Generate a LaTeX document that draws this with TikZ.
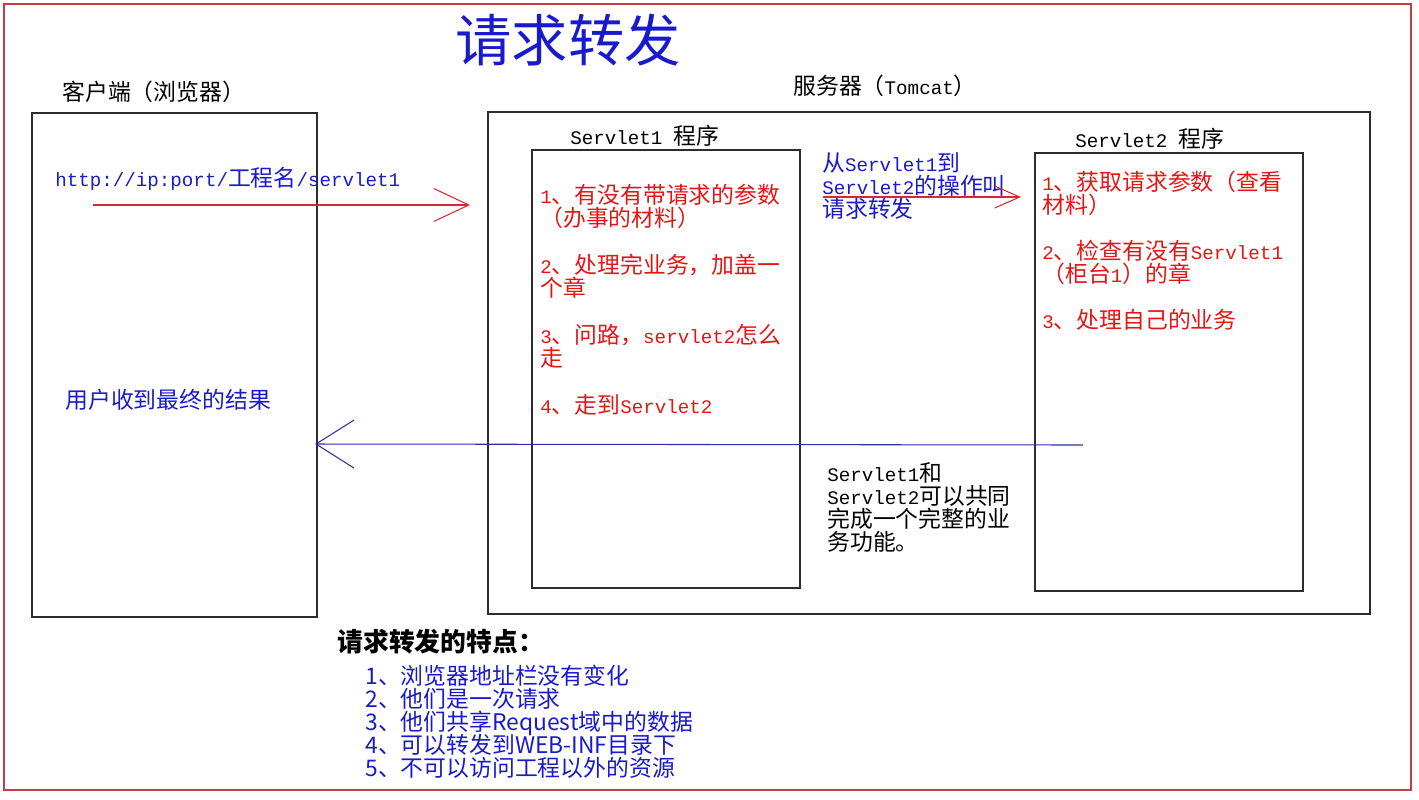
\documentclass[tikz,border=0pt]{standalone}
\usepackage{fontspec}
\setmainfont{Noto Sans CJK SC}
\newfontfamily\latmono[Scale=0.84]{Liberation Mono}
\newcommand\en[1]{{\latmono #1}}
\newcommand\tightlines{\lineskiplimit=-8pt\relax\lineskip=0pt\relax}
\usetikzlibrary{positioning,arrows.meta}
\definecolor{txtblue}{RGB}{25,25,205}
\definecolor{txtred}{RGB}{230,20,20}
\definecolor{arrred}{RGB}{215,40,50}
\definecolor{arrblue}{RGB}{45,45,165}
\definecolor{framered}{RGB}{195,60,70}
\definecolor{boxgray}{RGB}{45,45,45}
\tikzset{
  bx/.style={rectangle, draw=boxgray, line width=0.85pt, inner sep=0pt},
  tx/.style={anchor=north west, align=left, inner sep=0pt, font=\fontsize{13}{13.1}\selectfont\tightlines},
  rd/.style={tx, text=txtred},
  bl/.style={tx, text=txtblue},
  req/.style={draw=arrred, line width=0.6pt, -{Straight Barb[length=0.7cm, width=0.66cm]}},
  fwd/.style={draw=arrred, line width=0.6pt, -{Straight Barb[length=0.5cm, width=0.44cm]}},
  ret/.style={draw=arrblue, line width=0.6pt, -{Straight Barb[length=0.76cm, width=0.96cm]}}
}

\begin{document}
\begin{tikzpicture}[x=0.02cm, y=-0.02cm]
	\useasboundingbox (0,0) rectangle (1419,799);
	\node[rectangle, draw=framered, line width=1.4pt, minimum width=28.14cm, minimum height=15.72cm] (page) at (707.5,397) {};
	% boxes
	\node[bx, minimum width=5.7cm, minimum height=10.08cm] (client) at (174.5,365) {};
	\node[bx, minimum width=17.64cm, minimum height=10.04cm] (server) at (929,363) {};
	\node[bx, minimum width=5.36cm, minimum height=8.76cm] (servone) at (666,369) {};
	\node[bx, minimum width=5.36cm, minimum height=8.76cm] (servtwo) at (1169,372) {};
	% labels
	\node[tx, font=\fontsize{32}{32}\selectfont, text=txtblue, anchor=center] (title) at (568,40) {请求转发};
	\node[tx] (clientlbl) at (62,81) {客户端（浏览器）};
	\node[tx] (serverlbl) at (793,75) {服务器（\en{Tomcat}）};
	\node[tx] (servonelbl) at (570,125) {\en{Servlet1 }程序};
	\node[tx] (servtwolbl) at (1075,128) {\en{Servlet2 }程序};
	\node[bl] (url) at (55,167) {\en{http://ip:port/}工程名\en{/servlet1}};
	\node[bl] (fwdtxt) at (822,152) {从\en{Servlet1}到\\\en{Servlet2}的操作叫\\请求转发};
	\node[rd] (servonetxt) at (540,184) {\en{1}、有没有带请求的参数\\（办事的材料）\\[0.48cm]\en{2}、处理完业务，加盖一\\个章\\[0.48cm]\en{3}、问路，\en{servlet2}怎么\\走\\[0.48cm]\en{4}、走到\en{Servlet2}};
	\node[rd] (servtwotxt) at (1042,171) {\en{1}、获取请求参数（查看\\材料）\\[0.46cm]\en{2}、检查有没有\en{Servlet1}\\（柜台\en{1}）的章\\[0.46cm]\en{3}、处理自己的业务};
	\node[bl] (usertxt) at (65,389) {用户收到最终的结果};
	\node[tx] (bothtxt) at (827,462) {\en{Servlet1}和\\\en{Servlet2}可以共同\\完成一个完整的业\\务功能。};
	\node[tx, font=\bfseries\fontsize{14.7}{15}\selectfont] (feathead) at (337,629) {请求转发的特点：};
	\node[bl] (featlist) at (365,665) {1、浏览器地址栏没有变化\\2、他们是一次请求\\3、他们共享Request域中的数据\\4、可以转发到WEB-INF目录下\\5、不可以访问工程以外的资源};
	% arrows
	\coordinate (reqstart) at (93,205);
	\coordinate (reqtip) at (470,205);
	\coordinate (fwdstart) at (823,197);
	\coordinate (fwdtip) at (1021,197);
	\coordinate (retstart) at (1083,445);
	\coordinate (rettip) at (315,444);
	\draw[req] (reqstart) -- (reqtip);
	\draw[fwd] (fwdstart) -- (fwdtip);
	\draw[ret] (retstart) -- (rettip);
\end{tikzpicture}
\end{document}
